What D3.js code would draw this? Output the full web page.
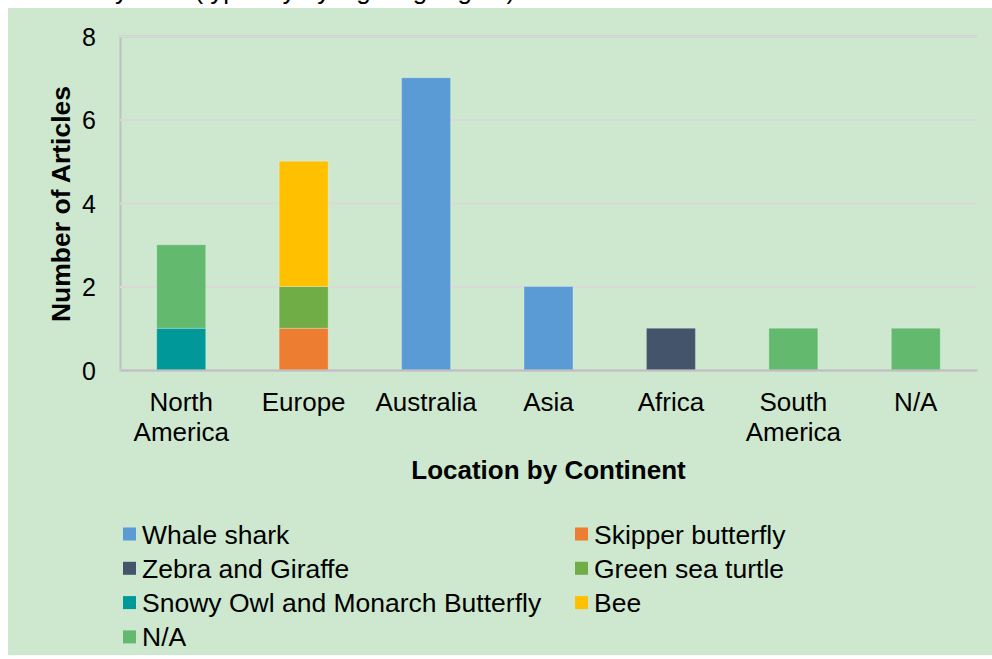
<!DOCTYPE html>
<html>
<head>
<meta charset="utf-8">
<script src="https://cdn.jsdelivr.net/npm/d3@7"></script>
<style>
  body { margin: 0; background: #ffffff; }
  text { font-family: "Liberation Sans", Arial, sans-serif; fill: #000; }
</style>
</head>
<body>
<div id="chart"></div>
<script>
// categories and series
var continents = ["North America", "Europe", "Australia", "Asia", "Africa", "South America", "N/A"];
var seriesNames = ["Whale shark", "Skipper butterfly", "Zebra and Giraffe", "Green sea turtle",
  "Snowy Owl and Monarch Butterfly", "Bee", "N/A"];
var seriesColours = ["#5b9bd5", "#ed7d31", "#44546a", "#70ad47", "#009898", "#ffc000", "#63b96d"];
var whaleShark = [0, 0, 7, 2, 0, 0, 0];
var skipper = [0, 1, 0, 0, 0, 0, 0];
var zebraGiraffe = [0, 0, 0, 0, 1, 0, 0];
var seaTurtle = [0, 1, 0, 0, 0, 0, 0];
var snowyOwl = [1, 0, 0, 0, 0, 0, 0];
var bee = [0, 3, 0, 0, 0, 0, 0];
var notKnown = [2, 0, 0, 0, 0, 1, 1];
var yTicks = [0, 2, 4, 6, 8];

var seriesValues = [whaleShark, skipper, zebraGiraffe, seaTurtle, snowyOwl, bee, notKnown];

var width = 992, height = 659;
var margin = { top: 36, right: 15, bottom: 289, left: 120 };

var svg = d3.select("#chart")
  .append("svg")
  .attr("width", width)
  .attr("height", height);

// title left over from the original, mostly cut off above the panel
svg.append("text")
  .attr("x", 8)
  .attr("y", -1)
  .style("font-size", "26px")
  .text("Articles by Year (typically by sighting region)");

svg.append("rect")
  .attr("x", 8)
  .attr("y", 8)
  .attr("width", width - 8)
  .attr("height", height - 12)
  .attr("fill", "#cde8cf");

// build rows for d3.stack
var table = continents.map(function (c, i) {
  var row = { continent: c };
  seriesNames.forEach(function (s, j) { row[s] = seriesValues[j][i]; });
  return row;
});

var stacked = d3.stack().keys(seriesNames)(table);

var x = d3.scaleBand()
  .domain(continents)
  .range([margin.left, width - margin.right])
  .paddingInner(0.6)
  .paddingOuter(0.3);

var y = d3.scaleLinear()
  .domain([0, 8])
  .range([370, margin.top]);

var colour = d3.scaleOrdinal().domain(seriesNames).range(seriesColours);

// gridlines
var yAxis = d3.axisLeft(y)
  .tickValues(yTicks)
  .tickSize(-(width - margin.right - margin.left))
  .tickPadding(24)
  .tickFormat(d3.format("d"));

var gy = svg.append("g")
  .attr("transform", "translate(" + margin.left + ",0)")
  .call(yAxis);
gy.select(".domain").attr("stroke", "#bfbfbf").attr("stroke-width", 2);
gy.selectAll(".tick line").attr("stroke", "#d9d9d9").attr("stroke-width", 2);
gy.selectAll(".tick text")
  .style("font-size", "25px")
  .attr("dy", "0.36em");

// bars
svg.append("g")
  .selectAll("g")
  .data(stacked)
  .enter()
  .append("g")
  .attr("fill", function (d) { return colour(d.key); })
  .selectAll("rect")
  .data(function (d) { return d.filter(function (p) { return p[1] > p[0]; }); })
  .enter()
  .append("rect")
  .attr("x", function (d) { return x(d.data.continent); })
  .attr("width", x.bandwidth())
  .attr("y", function (d) { return y(d[1]); })
  .attr("height", function (d) { return y(d[0]) - y(d[1]); })
  .attr("stroke", "rgba(255,255,255,0.25)")
  .attr("stroke-width", 1);

// x axis line
var xAxis = d3.axisBottom(x).tickSize(0).tickFormat("");
var gx = svg.append("g")
  .attr("transform", "translate(0," + y(0) + ")")
  .call(xAxis);
gx.select(".domain").attr("stroke", "#bfbfbf").attr("stroke-width", 2);

// category labels, wrapped onto two lines
var xLabels = svg.append("g")
  .selectAll("text")
  .data(continents)
  .enter()
  .append("text")
  .attr("text-anchor", "middle")
  .style("font-size", "26px")
  .attr("transform", function (d) { return "translate(" + (x(d) + x.bandwidth() / 2) + ",411)"; });

xLabels.each(function (d) {
  var words = d.split(" ");
  var t = d3.select(this);
  words.forEach(function (w, i) {
    t.append("tspan").attr("x", 0).attr("y", i * 30).text(w);
  });
});

// axis titles
svg.append("text")
  .attr("x", (margin.left + width - margin.right) / 2)
  .attr("y", 479)
  .attr("text-anchor", "middle")
  .style("font-size", "26px")
  .style("font-weight", "bold")
  .text("Location by Continent");

svg.append("text")
  .attr("transform", "translate(70," + ((y(0) + y(8)) / 2 + 1) + ") rotate(-90)")
  .attr("text-anchor", "middle")
  .style("font-size", "26.5px")
  .style("font-weight", "bold")
  .text("Number of Articles");

// legend, two columns
var legend = svg.append("g")
  .selectAll("g")
  .data(seriesNames)
  .enter()
  .append("g")
  .attr("transform", function (d, i) {
    var col = i % 2, row = Math.floor(i / 2);
    return "translate(" + (col === 0 ? 123 : 575) + "," + (534 + row * 34.3) + ")";
  });

legend.append("rect")
  .attr("x", 0)
  .attr("y", -6.5)
  .attr("width", 13)
  .attr("height", 13)
  .attr("fill", function (d) { return colour(d); });

legend.append("text")
  .attr("x", 19)
  .attr("dy", "0.36em")
  .style("font-size", "26.5px")
  .text(function (d) { return d; });
</script>
</body>
</html>
